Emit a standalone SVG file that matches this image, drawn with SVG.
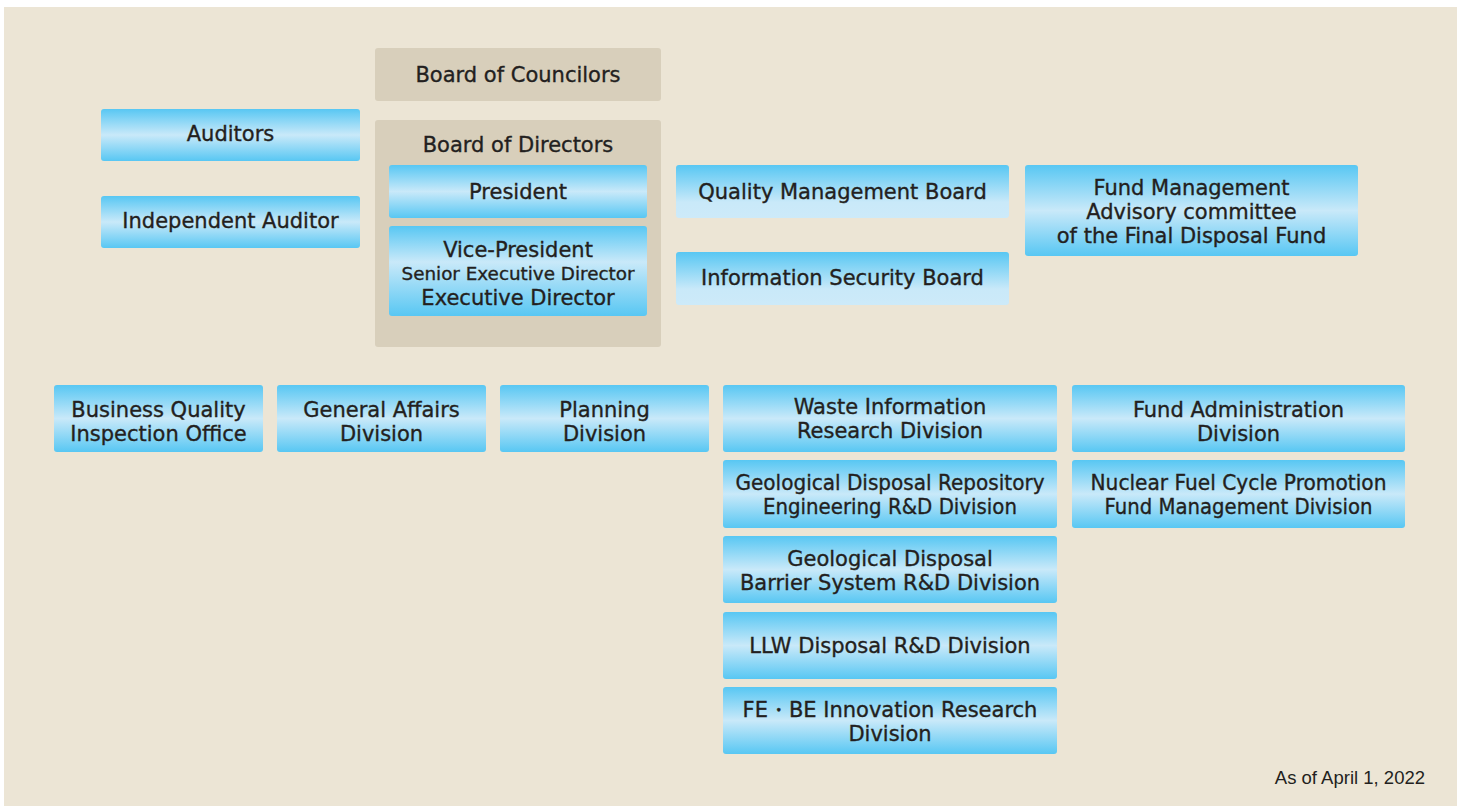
<svg xmlns="http://www.w3.org/2000/svg" width="1462" height="806" viewBox="0 0 1462 806">
<defs>
<linearGradient id="gMid" x1="0" y1="0" x2="0" y2="1">
<stop offset="0" stop-color="#58c7f3"/>
<stop offset="0.5" stop-color="#c9e9f9"/>
<stop offset="1" stop-color="#58c7f3"/>
</linearGradient>
<linearGradient id="gVP" x1="0" y1="0" x2="0" y2="1">
<stop offset="0" stop-color="#58c7f3"/>
<stop offset="0.4" stop-color="#c9e9f9"/>
<stop offset="1" stop-color="#58c7f3"/>
</linearGradient>
<linearGradient id="gDown" x1="0" y1="0" x2="0" y2="1">
<stop offset="0" stop-color="#58c7f3"/>
<stop offset="0.7" stop-color="#c9e9f9"/>
<stop offset="1" stop-color="#cdeaf9"/>
</linearGradient>
</defs>
<style>
.b{fill:url(#gMid);}
.bv{fill:url(#gVP);}
.bd{fill:url(#gDown);}
.tan{fill:#d8cfbb;}
text{font-family:"DejaVu Sans","Liberation Sans",sans-serif;font-size:21px;fill:#231f20;stroke:#231f20;stroke-width:0.35px;text-anchor:middle;}
.s{font-size:18px;}
.note{font-family:"Liberation Sans",Arial,sans-serif;font-size:18.5px;text-anchor:end;fill:#231f20;stroke:none;}
</style>
<rect x="4" y="7" width="1453" height="799" fill="#ece5d5"/>

<g id="board-of-councilors">
<rect class="tan" x="375" y="48" width="286" height="53" rx="3"/>
<text x="518" y="81.5">Board of Councilors</text>
</g>
<g id="board-of-directors">
<rect class="tan" x="375" y="120" width="286" height="227" rx="3"/>
<text x="518" y="151.5">Board of Directors</text>
</g>
<g id="auditors">
<rect class="b" x="101" y="109" width="259" height="52" rx="3"/>
<text x="230.5" y="141">Auditors</text>
</g>
<g id="independent-auditor">
<rect class="b" x="101" y="196" width="259" height="52" rx="3"/>
<text x="230.5" y="227.5">Independent Auditor</text>
</g>
<g id="president">
<rect class="b" x="389" y="165" width="258" height="53" rx="3"/>
<text x="518" y="198.5">President</text>
</g>
<g id="vice-president">
<rect class="bv" x="389" y="226" width="258" height="90" rx="3"/>
<text x="518" y="256.5">Vice-President</text>
<text class="s" x="518" y="279.5" textLength="233" lengthAdjust="spacingAndGlyphs">Senior Executive Director</text>
<text x="518" y="304.5">Executive Director</text>
</g>
<g id="quality-management-board">
<rect class="bd" x="676" y="165" width="333" height="53" rx="3"/>
<text x="842.5" y="198.5">Quality Management Board</text>
</g>
<g id="information-security-board">
<rect class="bd" x="676" y="252" width="333" height="53" rx="3"/>
<text x="842.5" y="284.5">Information Security Board</text>
</g>
<g id="fund-management-advisory">
<rect class="b" x="1025" y="165" width="333" height="91" rx="3"/>
<text x="1191.5" y="194.5">Fund Management</text>
<text x="1191.5" y="218.5">Advisory committee</text>
<text x="1191.5" y="242.5">of the Final Disposal Fund</text>
</g>
<g id="business-quality">
<rect class="b" x="54" y="385" width="209" height="67" rx="3"/>
<text x="158.5" y="416.5">Business Quality</text>
<text x="158.5" y="440.5">Inspection Office</text>
</g>
<g id="general-affairs">
<rect class="b" x="277" y="385" width="209" height="67" rx="3"/>
<text x="381.5" y="416.5">General Affairs</text>
<text x="381.5" y="440.5">Division</text>
</g>
<g id="planning">
<rect class="b" x="500" y="385" width="209" height="67" rx="3"/>
<text x="604.5" y="416.5">Planning</text>
<text x="604.5" y="440.5">Division</text>
</g>
<g id="waste-information">
<rect class="b" x="723" y="385" width="334" height="67" rx="3"/>
<text x="890" y="413.5">Waste Information</text>
<text x="890" y="437.5">Research Division</text>
</g>
<g id="fund-administration">
<rect class="b" x="1072" y="385" width="333" height="67" rx="3"/>
<text x="1238.5" y="416.5">Fund Administration</text>
<text x="1238.5" y="440.5">Division</text>
</g>
<g id="geological-repository">
<rect class="b" x="723" y="460" width="334" height="68" rx="3"/>
<text x="890" y="489.5" textLength="309" lengthAdjust="spacingAndGlyphs">Geological Disposal Repository</text>
<text x="890" y="513.5" textLength="254" lengthAdjust="spacingAndGlyphs">Engineering R&amp;D Division</text>
</g>
<g id="nuclear-fuel-cycle">
<rect class="b" x="1072" y="460" width="333" height="68" rx="3"/>
<text x="1238.5" y="489.5" textLength="296" lengthAdjust="spacingAndGlyphs">Nuclear Fuel Cycle Promotion</text>
<text x="1238.5" y="513.5" textLength="268" lengthAdjust="spacingAndGlyphs">Fund Management Division</text>
</g>
<g id="geological-barrier">
<rect class="b" x="723" y="536" width="334" height="67" rx="3"/>
<text x="890" y="565.5">Geological Disposal</text>
<text x="890" y="589.5">Barrier System R&amp;D Division</text>
</g>
<g id="llw-disposal">
<rect class="b" x="723" y="612" width="334" height="67" rx="3"/>
<text x="890" y="652.5">LLW Disposal R&amp;D Division</text>
</g>
<g id="fe-be-innovation">
<rect class="b" x="723" y="687" width="334" height="67" rx="3"/>
<text x="890" y="716.5">FE・BE Innovation Research</text>
<text x="890" y="740.5">Division</text>
</g>
<g id="connectors"></g>
<text class="note" x="1425" y="784">As of April 1, 2022</text>
</svg>
